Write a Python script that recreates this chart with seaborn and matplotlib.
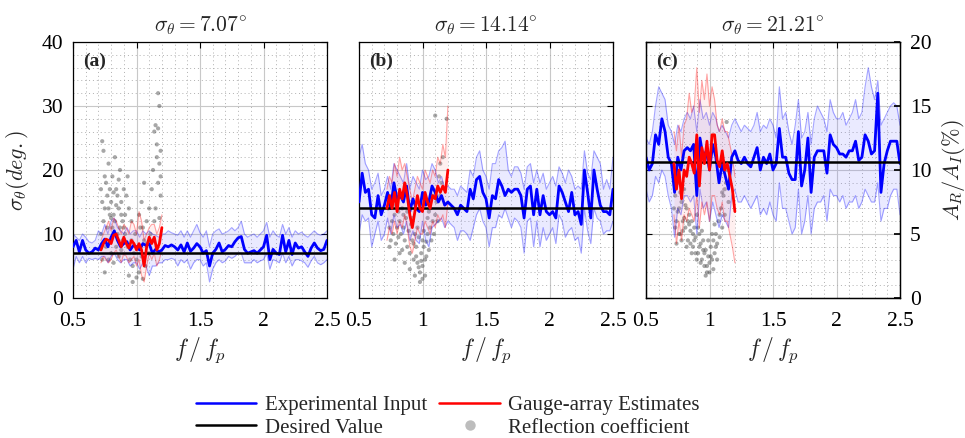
import numpy as np
import pandas as pd
import matplotlib
matplotlib.use("Agg")
import matplotlib.pyplot as plt
from matplotlib.ticker import MultipleLocator
from matplotlib.lines import Line2D
import seaborn as sns

# ---------------- data ----------------
titles = [r'$\sigma_\theta\mathrm{=7.07}^{\circ}$', r'$\sigma_\theta\mathrm{=14.14}^{\circ}$',
          r'$\sigma_\theta\mathrm{=21.21}^{\circ}$']
panel_tags = ['(a)', '(b)', '(c)']
desired = [7.07, 14.14, 21.21]

freq_exp = np.linspace(0.5, 2.5, 81)      # f/fp bins of the experimental input
freq_est = np.linspace(0.72, 1.20, 25)    # f/fp bins of the gauge-array estimates

exp_mean_a = [8.0, 9.0, 7.2, 9.0, 7.5, 7.0, 7.2, 7.8, 7.5, 8.5, 9.2, 8.0, 9.5, 10.5, 9.0, 8.0, 8.5, 8.8, 7.5, 8.2,
              8.0, 7.5, 8.5, 8.2, 8.5, 7.0, 7.6, 7.2, 7.5, 8.2, 8.0, 8.3, 8.0, 7.5, 8.3, 7.2, 8.6, 7.3, 7.8, 8.5,
              8.0, 7.0, 7.4, 5.0, 7.0, 7.6, 8.6, 7.2, 7.6, 8.2, 8.0, 8.8, 9.4, 9.6, 7.6, 7.0, 7.2, 7.4, 7.0, 7.5,
              8.0, 9.8, 6.0, 7.6, 7.0, 6.8, 9.8, 7.2, 9.0, 6.8, 8.6, 7.8, 8.0, 7.2, 6.5, 7.8, 8.6, 7.8, 7.4, 7.6, 9.0]
exp_up_a = [10, 9.5, 9.0, 10.0, 9.5, 8.8, 8.6, 9.0, 10.5, 10.0, 11.5, 10.0, 12.0, 12.5, 11.0, 10.5, 10.0, 11.0, 10.0, 10.5,
            10.5, 9.5, 10.5, 10.0, 10.5, 10.0, 9.8, 9.5, 10.0, 10.0, 10.5, 10.2, 10.0, 9.8, 10.5, 9.5, 10.5, 9.5, 10.5, 11.5,
            10.2, 9.5, 10.5, 8.0, 10.0, 10.5, 10.8, 10.0, 10.2, 10.5, 11.0, 10.5, 11.0, 12.0, 10.0, 9.5, 9.8, 10.0, 9.5, 10.0,
            10.5, 11.8, 9.5, 10.5, 9.8, 9.5, 11.5, 10.0, 11.0, 9.5, 10.5, 10.0, 10.3, 9.8, 9.5, 10.0, 10.5, 10.0, 9.8, 10.0, 10.5]
exp_lo_a = [4.5, 6.5, 5.5, 6.5, 5.5, 6.2, 6.0, 6.2, 6.0, 6.5, 6.5, 5.5, 6.5, 7.0, 6.0, 5.5, 6.0, 6.0, 5.0, 5.5,
            5.5, 4.5, 5.5, 5.0, 3.5, 5.0, 5.0, 5.5, 5.5, 6.0, 6.0, 6.2, 6.0, 5.0, 6.0, 5.5, 6.0, 4.5, 5.5, 6.0,
            6.0, 5.0, 5.5, 2.5, 4.5, 5.5, 6.0, 5.5, 5.8, 6.5, 6.2, 6.5, 7.0, 7.0, 5.5, 5.5, 5.5, 6.0, 5.5, 5.8,
            6.0, 7.0, 4.5, 6.0, 5.8, 5.5, 7.0, 5.5, 6.5, 5.0, 6.0, 6.0, 5.8, 5.5, 4.8, 5.8, 6.5, 5.5, 5.2, 5.5, 6.0]

exp_mean_b = [15, 19.5, 16.5, 17, 13, 12.5, 16, 13, 14.5, 16.5, 14, 18, 15.5, 16, 15, 17.5, 13.5, 15.5, 14, 13.5,
              16.5, 14.5, 15, 17.5, 16.5, 15, 16, 14.5, 15, 14.5, 14, 13, 14.5, 14, 13.5, 17, 15.5, 18.5, 19, 16.5,
              15.5, 12.5, 16, 15.5, 18.5, 17.5, 16, 17, 16.5, 17, 17, 16, 12.5, 17, 17.5, 13, 17, 13, 16, 13.5,
              13, 13.5, 12.5, 17.5, 16.5, 15, 13.5, 16.5, 13, 13.5, 11.5, 20, 16.5, 12.5, 20, 17, 14.5, 13.5, 13.5, 13, 17]
exp_up_b = [22, 24, 21, 20, 17, 18, 19.5, 16, 17, 19, 17, 21, 20, 19, 18, 21, 17, 19, 18, 17,
            20, 18.5, 19, 21, 20, 18, 19, 17, 17.5, 17, 17, 16, 17.5, 17, 16.5, 20, 19, 22, 23, 20,
            19, 17, 21, 21, 23, 23.5, 24.5, 20, 19, 20.5, 20.5, 19.5, 17, 20.5, 21, 18, 20, 18, 19.5, 17,
            18, 19, 17.5, 20.5, 19.5, 18, 20, 19, 17, 17.5, 17, 23, 19.5, 18.5, 23, 22, 21, 17, 18.5, 17, 22]
exp_lo_b = [10, 13, 12, 12.5, 8, 10, 12, 9, 10, 12.5, 10, 13, 11, 11.5, 10, 12, 9, 10.5, 9, 8.5,
            12, 9, 8, 11, 11.5, 12, 12.5, 11, 12, 11.5, 11, 9, 10.5, 10.5, 10, 9, 11, 13, 14, 12,
            11, 8, 11, 11, 13, 12.5, 14, 12.5, 11, 12.5, 12, 11, 7, 12, 12.5, 8, 12, 8, 11, 9,
            10, 11, 8.5, 13, 12, 9.5, 10.5, 11, 9, 9.5, 7, 14, 10.5, 8.5, 14, 12.5, 12, 10, 10.5, 10.5, 12]

exp_mean_c = [22, 20, 21, 25.5, 24, 28, 26, 22, 21, 16.5, 22, 20, 23, 23.5, 23, 24, 16, 25, 22, 23,
              20, 24, 22, 18, 21, 19, 17, 22, 23, 21.5, 21, 22, 21, 20.5, 22, 23.5, 20, 22, 21, 22.5,
              20, 21, 26.5, 22, 22, 19.5, 18.5, 18.5, 26, 17.5, 20, 25, 16.5, 22, 23, 23, 23, 19.5, 25.5, 24,
              23.5, 22.5, 22.5, 22, 23, 23, 24.5, 21.5, 22, 25.5, 24.5, 22.5, 23, 32, 16.5, 21, 23, 24.5, 24.5, 24.5, 21]
exp_up_c = [25, 24, 26, 30, 33, 32, 31, 27, 26, 24, 27, 26, 28, 29, 28, 30, 26, 31, 28, 29,
            27, 29, 28, 26, 27, 26, 25, 27, 28, 27, 26, 27, 26.5, 26, 27, 29, 26, 27, 26.5, 28,
            27, 25, 33, 28, 29, 26, 24, 27, 31, 25, 26, 29, 24, 28, 30, 29, 28, 26, 31, 29,
            28, 28, 29, 27, 28, 29, 31, 28, 29, 33, 36, 33, 31, 34, 27, 28, 29, 30, 30.5, 30, 27]
exp_lo_c = [17, 15, 16, 19, 18, 20, 19, 16, 14, 9.5, 14, 13, 16, 16, 15, 16, 10, 17, 14, 15,
            12, 15, 13, 11, 13, 12, 11, 16, 17, 15, 15, 16, 15, 14, 15, 16, 13, 14, 13, 15,
            13, 12, 18, 14, 14, 12, 10, 11, 17, 10, 12, 16, 10, 14, 15, 15, 16, 12, 17, 16,
            16, 15, 16, 14, 15, 15, 16, 14, 15, 17, 16, 15, 15, 18, 12, 14, 14, 16, 17, 17, 13]

est_mean_a = [7.5, 8.5, 9.2, 9.0, 8.5, 9.8, 10.0, 9.0, 8.0, 9.5, 8.5, 7.8, 9.0, 8.5, 7.5, 8.5, 7.5, 5.0, 8.0, 9.5,
              8.5, 9.5, 7.5, 8.5, 11.0]
est_up_a = [9, 10, 11, 12, 10.5, 12.5, 12, 11, 10, 11.5, 11, 10, 12, 11.5, 10, 13.5, 12, 9, 10, 11, 11.5, 11.5, 10, 11, 13]
est_lo_a = [5.5, 6.5, 6, 5.5, 6, 7, 7.5, 6.5, 5.5, 7, 6.5, 5.5, 6, 6.5, 5, 6, 3.5, 2.5, 5, 7, 6, 7, 5, 6, 7.5]

est_mean_b = [14, 16, 14, 16.5, 13.5, 17, 15.5, 18, 16, 13, 11, 13.5, 16, 14, 13.5, 16.5, 15, 14, 16, 15.5,
              17.5, 16.5, 17.5, 16.5, 20]
est_up_b = [17, 19, 18, 21, 19, 22, 20, 21, 19, 17, 15, 17, 19, 18, 17, 20, 19, 18, 20, 19, 22, 21, 24, 22, 30]
est_lo_b = [9, 11, 10, 12, 10, 12, 11, 13, 11, 8, 7, 9, 11, 10, 10, 12, 11, 10, 12, 11, 13, 12, 13, 11, 15]

est_mean_c = [21, 17, 20, 15.5, 20, 19, 22, 21, 19.5, 25.5, 17.5, 23.5, 21, 24.5, 20, 25.5, 25.5, 21.5, 20.5, 23,
              20, 21, 19, 17, 13.5]
est_up_c = [26, 23, 27, 22, 27, 28, 32, 29, 30, 36, 29, 34, 31, 35, 30, 33, 31, 27, 26, 28, 26, 26, 24, 22, 19]
est_lo_c = [13, 8.5, 12, 9, 13, 12, 14, 13, 12, 16, 11, 15, 13, 15, 12, 16, 16, 14, 13, 15, 12, 12, 10, 8, 5.5]

refl_x_a = [0.73, 0.74, 0.72, 0.73, 0.75, 0.76, 0.74, 0.72, 0.75, 0.77, 0.78, 0.79, 0.80, 0.81, 0.82, 0.83, 0.84,
            0.85, 0.86, 0.87, 0.88, 0.89, 0.90, 0.91, 0.77, 0.79, 0.81, 0.83, 0.85, 0.87, 0.89, 0.76, 0.78, 0.80,
            0.82, 0.84, 0.86, 0.88, 0.73, 0.75, 0.91, 0.92, 0.93, 0.94, 0.80, 0.84, 0.86, 0.78, 0.82, 0.88, 0.90,
            0.93, 0.95, 0.96, 0.97, 0.98, 0.99, 1.00, 1.01, 1.02, 1.03, 1.04, 1.05, 1.06, 1.07, 1.08, 1.09, 1.10,
            1.11, 1.12, 0.94, 0.96, 1.00, 1.02, 1.04, 1.06, 1.08, 0.97, 1.05,
            1.13, 1.14, 1.15, 1.16, 1.17, 1.18, 1.16, 1.17, 1.18, 1.19, 1.15, 1.19, 1.14, 1.18, 1.13, 1.16, 1.19, 1.17]
refl_y_a = [24.5, 23, 17, 15, 19, 18, 12, 10, 14, 16, 21, 17, 15, 19, 13, 22, 17,
            16, 14, 20, 15, 12, 17, 13, 11, 13, 11, 12, 10, 11, 9, 8, 6, 7,
            5.5, 8, 6.5, 7.5, 6, 4, 10, 16, 19, 14, 12.5, 14.5, 18.5, 14, 16.5, 13, 11,
            8, 6, 9, 5, 7, 10, 6, 8, 4, 11, 6.5, 3, 9, 5, 12, 7, 14,
            10, 17, 3.5, 12, 3.2, 13, 15, 18, 8.5, 2.5, 11,
            20, 26, 27, 22, 32, 30, 24, 18, 21, 23, 14, 16, 12, 12.5, 9, 8, 19, 26.5]

refl_x_b = [0.73, 0.74, 0.75, 0.76, 0.77, 0.78, 0.79, 0.80, 0.81, 0.82, 0.83, 0.84, 0.85, 0.86, 0.87, 0.88, 0.89,
            0.90, 0.91, 0.92, 0.93, 0.94, 0.95, 0.96, 0.97, 0.98, 0.99, 1.00, 1.01, 1.02, 1.03, 1.04, 1.05, 1.06,
            1.07, 1.08, 1.09, 1.10, 1.11, 1.12, 1.13, 1.14, 1.15, 1.16, 1.10, 1.19, 0.76, 0.80, 0.84, 0.88, 0.92,
            0.96, 1.00, 1.04, 1.08, 0.74, 0.78, 0.82, 0.86, 0.90, 0.94, 0.98, 0.95, 1.00, 1.02, 0.97, 0.93, 0.99,
            1.03, 1.06, 1.12, 1.14, 0.85, 0.81, 0.77, 1.01, 1.05]
refl_y_b = [14, 11, 9, 12, 10, 13, 8.5, 11, 9.5, 12, 10, 7.5, 11, 9, 12.5, 8, 10.5,
            7, 11.5, 9, 6, 10, 8, 5.5, 9.5, 4, 7, 5, 8, 3.5, 6.5, 10, 7.5, 11,
            9, 12, 10, 13, 15, 17, 19, 21, 18, 22, 28.5, 28, 16, 15, 14, 13.5, 12.5,
            11, 9, 12.5, 16, 8, 6, 7, 5.5, 4.5, 3.5, 2.5, 6.5, 3, 6, 4.8, 8.5, 5.8,
            8.8, 14, 12, 16, 13, 13.5, 14.5, 10.5, 13.5]

refl_x_c = [0.73, 0.74, 0.75, 0.76, 0.77, 0.78, 0.79, 0.80, 0.81, 0.82, 0.83, 0.84, 0.85, 0.86, 0.87, 0.88, 0.89,
            0.90, 0.91, 0.92, 0.93, 0.94, 0.95, 0.96, 0.97, 0.98, 0.99, 1.00, 1.01, 1.02, 1.03, 1.04, 1.05, 1.06,
            1.07, 1.08, 1.09, 1.10, 1.11, 1.12, 1.13, 1.14, 1.135, 0.74, 0.76, 0.78, 0.80, 0.82, 0.84, 0.86, 0.88,
            0.90, 0.92, 0.94, 0.96, 0.98, 1.00, 1.02, 1.04, 1.06, 1.08, 0.75, 0.77, 0.79, 0.81, 0.83, 0.85, 0.87,
            0.89, 0.91, 0.93, 0.95, 0.97, 0.99, 1.01, 1.03, 1.05, 0.73, 0.72, 1.10, 1.12, 1.15]
refl_y_c = [16, 12, 18, 14, 10, 15, 12, 17, 11, 14, 9, 13, 10.5, 12, 8, 11, 9.5,
            13, 7, 10, 8.5, 6, 9, 5, 7.5, 4, 6.5, 5.5, 8, 6, 9, 7, 10, 8.5,
            12, 9.5, 14, 11, 16, 13, 18, 20, 27.5, 8.5, 10, 9, 12.5, 8, 11.5, 7, 9,
            6, 8, 10.5, 7, 5, 4, 10, 11.5, 6, 13, 13.5, 16.5, 10.5, 14.5, 12, 8.5, 10,
            7, 11, 5.5, 7.5, 3.5, 9, 6.5, 4.5, 8, 11, 14, 16.5, 17, 15]

# ---------------- style ----------------
sns.set_theme(style="white")
plt.rcParams['font.family'] = ['Liberation Serif', 'DejaVu Serif']
plt.rcParams['mathtext.fontset'] = 'cm'
plt.rcParams['axes.unicode_minus'] = False

BLUE = (0, 0, 1)
RED = (1, 0, 0)

fig = plt.figure(figsize=(9.65, 4.38), dpi=100)
lefts = [73 / 965, 359 / 965, 646 / 965]
width = 254 / 965
bottom = 1 - 298 / 438
height = 256 / 438

exp_sets = [(exp_mean_a, exp_lo_a, exp_up_a), (exp_mean_b, exp_lo_b, exp_up_b), (exp_mean_c, exp_lo_c, exp_up_c)]
est_sets = [(est_mean_a, est_lo_a, est_up_a), (est_mean_b, est_lo_b, est_up_b), (est_mean_c, est_lo_c, est_up_c)]
refl_sets = [(refl_x_a, refl_y_a), (refl_x_b, refl_y_b), (refl_x_c, refl_y_c)]

TICK_FS = 15.5

for i in range(3):
    ax = fig.add_axes([lefts[i], bottom, width, height])
    ax.set_xlim(0.5, 2.5)
    ax.set_ylim(0, 40)
    ax.xaxis.set_major_locator(MultipleLocator(0.5))
    ax.xaxis.set_minor_locator(MultipleLocator(0.1))
    ax.yaxis.set_major_locator(MultipleLocator(10))
    ax.yaxis.set_minor_locator(MultipleLocator(2))
    ax.grid(which='major', color='#c8c8c8', lw=0.8, ls='-')
    ax.grid(which='minor', color='#b0b0b0', lw=0.7, ls=(0, (1, 3)))
    ax.set_axisbelow(True)

    # reflection coefficient scatter
    rx, ry = refl_sets[i]
    sns.scatterplot(x=rx, y=ry, ax=ax, color='#505050', s=9, alpha=0.5, edgecolor='none', zorder=2)

    # experimental input band + mean
    m, lo, up = exp_sets[i]
    ax.fill_between(freq_exp, lo, up, color=(0.45, 0.45, 1.0), alpha=0.15, lw=0, zorder=2)
    sns.lineplot(x=freq_exp, y=lo, ax=ax, color=BLUE, lw=0.8, alpha=0.35, zorder=2)
    sns.lineplot(x=freq_exp, y=up, ax=ax, color=BLUE, lw=0.8, alpha=0.35, zorder=2)

    # gauge-array estimate band
    em, elo, eup = est_sets[i]
    ax.fill_between(freq_est, elo, eup, color=(1.0, 0.5, 0.5), alpha=0.12, lw=0, zorder=3)
    sns.lineplot(x=freq_est, y=elo, ax=ax, color=RED, lw=0.8, alpha=0.35, zorder=3)
    sns.lineplot(x=freq_est, y=eup, ax=ax, color=RED, lw=0.8, alpha=0.35, zorder=3)

    sns.lineplot(x=freq_exp, y=m, ax=ax, color=BLUE, lw=2.0, zorder=4)
    ax.axhline(desired[i], color='black', lw=1.8, zorder=5)
    sns.lineplot(x=freq_est, y=em, ax=ax, color=RED, lw=2.0, zorder=6)

    ax.set_title(titles[i], fontsize=15.5, pad=8)
    ax.set_xlabel(r'$f\,/\,f_p$', fontsize=17, labelpad=3)
    ax.text(0.04, 0.96, panel_tags[i], transform=ax.transAxes, fontsize=14, fontweight='bold',
            va='top', ha='left', zorder=7)
    ax.tick_params(which='major', direction='in', length=4, width=0.8, top=True, right=True,
                   labelsize=TICK_FS, colors='black')
    ax.tick_params(axis='x', which='major', pad=10)
    ax.tick_params(axis='y', which='major', pad=7)
    ax.tick_params(which='minor', length=0)
    ax.set_xticks([0.5, 1, 1.5, 2, 2.5])
    ax.set_xticklabels(['0.5', '1', '1.5', '2', '2.5'])
    for s in ax.spines.values():
        s.set_color('black')
        s.set_linewidth(0.9)
    if i == 0:
        ax.set_ylabel(r'$\sigma_\theta(deg.)$', fontsize=16, labelpad=8)
        ax.set_yticks([0, 10, 20, 30, 40])
    else:
        ax.set_ylabel('')
        ax.tick_params(axis='y', labelleft=False)
    if i == 2:
        ax2 = ax.twinx()
        ax2.set_ylim(0, 20)
        ax2.set_yticks([0, 5, 10, 15, 20])
        ax2.tick_params(direction='in', length=4, labelsize=TICK_FS, colors='black', pad=7)
        ax2.set_ylabel(r'$A_R/A_I(\%)$', fontsize=16, labelpad=6)
        ax2.grid(False)
        for s in ax2.spines.values():
            s.set_color('black')
            s.set_linewidth(0.9)

handles = [Line2D([], [], color=BLUE, lw=1.8), Line2D([], [], color='black', lw=1.8),
           Line2D([], [], color=RED, lw=1.8),
           Line2D([], [], ls='none', marker='o', markersize=7.5, color='#bdbdbd', markeredgecolor='none')]
labels = ['Experimental Input', 'Desired Value', 'Gauge-array Estimates', 'Reflection coefficient']
fig.legend(handles, labels, ncol=2, loc='lower center', bbox_to_anchor=(0.464, -0.042), frameon=False,
           fontsize=15, handlelength=2.9, columnspacing=0.6, labelspacing=0.15, handletextpad=0.4)

fig.savefig('out.png', dpi=100)
